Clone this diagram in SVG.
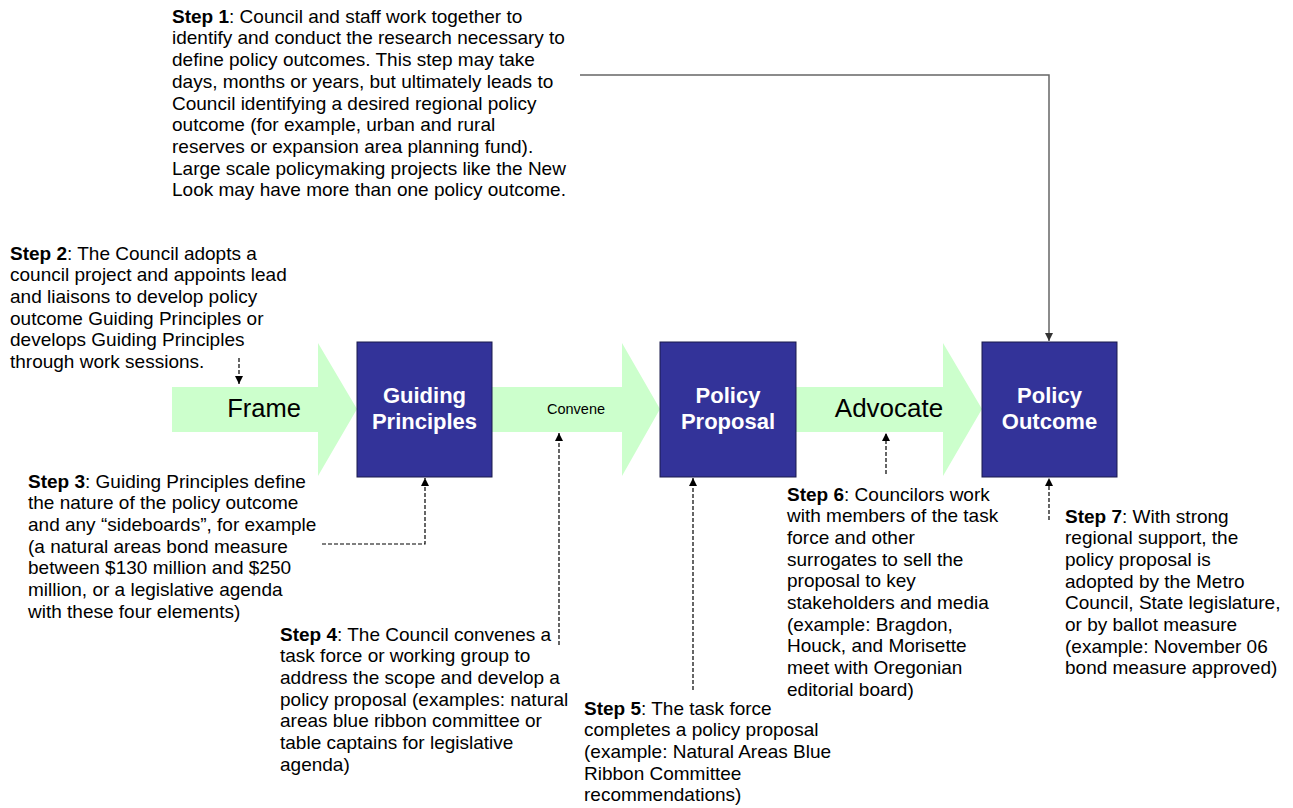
<svg xmlns="http://www.w3.org/2000/svg" width="1293" height="808" viewBox="0 0 1293 808">
<style>
.t{font-family:"Liberation Sans",Arial,sans-serif;font-size:19px;fill:#000}
.b{font-weight:bold}
.arr{fill:#ccffcc;stroke:none}
.box{fill:#333399;stroke:#1a1a4d;stroke-width:1}
.bt{font-family:"Liberation Sans",Arial,sans-serif;font-size:22px;font-weight:bold;fill:#fff;text-anchor:middle}
.at{font-family:"Liberation Sans",Arial,sans-serif;fill:#000;text-anchor:middle}
.dash{fill:none;stroke:#000;stroke-width:1.2;stroke-dasharray:4,2}
.solid{fill:none;stroke:#666;stroke-width:1.5}
</style>
<defs>
<marker id="ah" viewBox="0 0 10 10" refX="10" refY="5" markerWidth="8" markerHeight="10" markerUnits="userSpaceOnUse" orient="auto"><path d="M0,0 L10,5 L0,10 z" fill="#000"/></marker>
<marker id="ahg" viewBox="0 0 10 10" refX="10" refY="5" markerWidth="8" markerHeight="10" markerUnits="userSpaceOnUse" orient="auto"><path d="M0,0 L10,5 L0,10 z" fill="#333"/></marker>
</defs>
<g id="arrow-frame">
<polygon class="arr" points="172,387 318,387 318,343 357,409 318,476 318,432 172,432"/>
<text class="at" x="264" y="417" font-size="25.5">Frame</text>
</g>
<g id="arrow-convene">
<polygon class="arr" points="492,387 622,387 622,343 660,409 622,476 622,432 492,432"/>
<text class="at" x="576" y="413.5" font-size="14.5">Convene</text>
</g>
<g id="arrow-advocate">
<polygon class="arr" points="796,387 943,387 943,343 982,409 943,476 943,432 796,432"/>
<text class="at" x="889" y="417" font-size="26">Advocate</text>
</g>
<g id="guiding-principles">
<rect class="box" x="357" y="342" width="135" height="135"/>
<text class="bt" x="424.5" y="403">Guiding</text>
<text class="bt" x="424.5" y="429">Principles</text>
</g>
<g id="policy-proposal">
<rect class="box" x="660" y="342" width="136" height="135"/>
<text class="bt" x="728" y="403">Policy</text>
<text class="bt" x="728" y="429">Proposal</text>
</g>
<g id="policy-outcome">
<rect class="box" x="982" y="342" width="135" height="135"/>
<text class="bt" x="1049.5" y="403">Policy</text>
<text class="bt" x="1049.5" y="429">Outcome</text>
</g>
<g id="connectors">
<polyline class="solid" points="580,75 1049,75 1049,341" marker-end="url(#ahg)"/>
<line class="dash" x1="239" y1="358" x2="239" y2="384" marker-end="url(#ah)"/>
<polyline class="dash" points="322,544 425,544 425,478" marker-end="url(#ah)"/>
<line class="dash" x1="559" y1="645" x2="559" y2="433" marker-end="url(#ah)"/>
<line class="dash" x1="693" y1="690" x2="693" y2="478" marker-end="url(#ah)"/>
<line class="dash" x1="886" y1="474" x2="886" y2="433" marker-end="url(#ah)"/>
<line class="dash" x1="1049" y1="520" x2="1049" y2="478" marker-end="url(#ah)"/>
</g>
<g id="step1">
<text class="t" x="172" y="22.7"><tspan class="b">Step 1</tspan>: Council and staff work together to</text>
<text class="t" x="172" y="44.4">identify and conduct the research necessary to</text>
<text class="t" x="172" y="66.1">define policy outcomes. This step may take</text>
<text class="t" x="172" y="87.8">days, months or years, but ultimately leads to</text>
<text class="t" x="172" y="109.5">Council identifying a desired regional policy</text>
<text class="t" x="172" y="131.2">outcome (for example, urban and rural</text>
<text class="t" x="172" y="152.9">reserves or expansion area planning fund).</text>
<text class="t" x="172" y="174.6">Large scale policymaking projects like the New</text>
<text class="t" x="172" y="196.3">Look may have more than one policy outcome.</text>
</g>
<g id="step2">
<text class="t" x="10" y="259.5"><tspan class="b">Step 2</tspan>: The Council adopts a</text>
<text class="t" x="10" y="281.2">council project and appoints lead</text>
<text class="t" x="10" y="302.9">and liaisons to develop policy</text>
<text class="t" x="10" y="324.6">outcome Guiding Principles or</text>
<text class="t" x="10" y="346.3">develops Guiding Principles</text>
<text class="t" x="10" y="368">through work sessions.</text>
</g>
<g id="step3">
<text class="t" x="28" y="487.5"><tspan class="b">Step 3</tspan>: Guiding Principles define</text>
<text class="t" x="28" y="509.2">the nature of the policy outcome</text>
<text class="t" x="28" y="530.9">and any “sideboards”, for example</text>
<text class="t" x="28" y="552.6">(a natural areas bond measure</text>
<text class="t" x="28" y="574.3">between $130 million and $250</text>
<text class="t" x="28" y="596">million, or a legislative agenda</text>
<text class="t" x="28" y="617.7">with these four elements)</text>
</g>
<g id="step4">
<text class="t" x="280" y="640.5"><tspan class="b">Step 4</tspan>: The Council convenes a</text>
<text class="t" x="280" y="662.2">task force or working group to</text>
<text class="t" x="280" y="683.9">address the scope and develop a</text>
<text class="t" x="280" y="705.6">policy proposal (examples: natural</text>
<text class="t" x="280" y="727.3">areas blue ribbon committee or</text>
<text class="t" x="280" y="749">table captains for legislative</text>
<text class="t" x="280" y="770.7">agenda)</text>
</g>
<g id="step5">
<text class="t" x="584" y="714.5"><tspan class="b">Step 5</tspan>: The task force</text>
<text class="t" x="584" y="736.2">completes a policy proposal</text>
<text class="t" x="584" y="757.9">(example: Natural Areas Blue</text>
<text class="t" x="584" y="779.6">Ribbon Committee</text>
<text class="t" x="584" y="801.3">recommendations)</text>
</g>
<g id="step6">
<text class="t" x="787" y="500.5"><tspan class="b">Step 6</tspan>: Councilors work</text>
<text class="t" x="787" y="522.2">with members of the task</text>
<text class="t" x="787" y="543.9">force and other</text>
<text class="t" x="787" y="565.6">surrogates to sell the</text>
<text class="t" x="787" y="587.3">proposal to key</text>
<text class="t" x="787" y="609">stakeholders and media</text>
<text class="t" x="787" y="630.7">(example: Bragdon,</text>
<text class="t" x="787" y="652.4">Houck, and Morisette</text>
<text class="t" x="787" y="674.1">meet with Oregonian</text>
<text class="t" x="787" y="695.8">editorial board)</text>
</g>
<g id="step7">
<text class="t" x="1065" y="522.5"><tspan class="b">Step 7</tspan>: With strong</text>
<text class="t" x="1065" y="544.2">regional support, the</text>
<text class="t" x="1065" y="565.9">policy proposal is</text>
<text class="t" x="1065" y="587.6">adopted by the Metro</text>
<text class="t" x="1065" y="609.3">Council, State legislature,</text>
<text class="t" x="1065" y="631">or by ballot measure</text>
<text class="t" x="1065" y="652.7">(example: November 06</text>
<text class="t" x="1065" y="674.4">bond measure approved)</text>
</g>
</svg>
